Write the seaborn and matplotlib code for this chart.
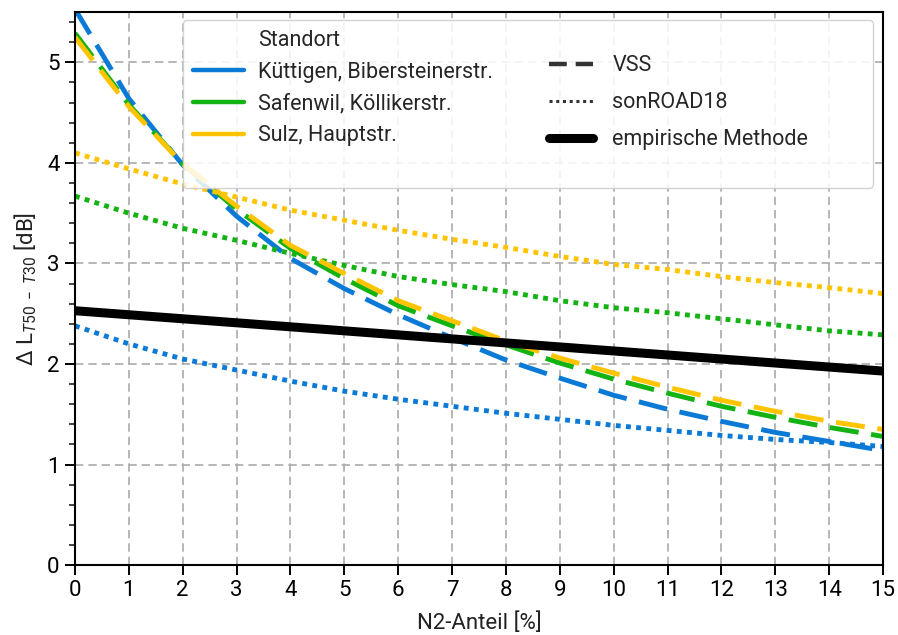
import numpy as np
import pandas as pd
import matplotlib
matplotlib.use("Agg")
import matplotlib.pyplot as plt
import seaborn as sns
from matplotlib.lines import Line2D
from matplotlib.ticker import MultipleLocator

# ---- data ----
n2_anteil = [0, 1, 2, 3, 4, 5, 6, 7, 8, 9, 10, 11, 12, 13, 14, 15]
standorte = ["Küttigen, Bibersteinerstr.", "Safenwil, Köllikerstr.", "Sulz, Hauptstr."]
methoden = ["VSS", "sonROAD18"]

kuettigen_vss = [5.53, 4.64, 3.98, 3.47, 3.05, 2.75, 2.49, 2.26, 2.04, 1.86, 1.69, 1.55, 1.43, 1.32, 1.23, 1.14]
safenwil_vss = [5.29, 4.58, 3.99, 3.54, 3.15, 2.85, 2.58, 2.38, 2.19, 2.01, 1.85, 1.71, 1.58, 1.47, 1.37, 1.28]
sulz_vss = [5.25, 4.56, 3.99, 3.57, 3.18, 2.90, 2.63, 2.43, 2.23, 2.06, 1.91, 1.77, 1.64, 1.53, 1.43, 1.35]

kuettigen_son = [2.38, 2.20, 2.05, 1.94, 1.83, 1.73, 1.65, 1.58, 1.51, 1.45, 1.39, 1.34, 1.29, 1.25, 1.22, 1.18]
safenwil_son = [3.67, 3.50, 3.35, 3.23, 3.10, 2.98, 2.87, 2.79, 2.72, 2.63, 2.56, 2.51, 2.45, 2.39, 2.33, 2.29]
sulz_son = [4.10, 3.94, 3.79, 3.66, 3.53, 3.43, 3.33, 3.24, 3.16, 3.07, 2.99, 2.94, 2.87, 2.81, 2.76, 2.70]

empirisch = [2.53, 2.49, 2.45, 2.41, 2.37, 2.33, 2.29, 2.25, 2.21, 2.17, 2.13, 2.09, 2.05, 2.01, 1.97, 1.93]

colors = ["#0a7ad6", "#12b312", "#ffc400"]

# ---- long table ----
series = {
    (standorte[0], "VSS"): kuettigen_vss,
    (standorte[1], "VSS"): safenwil_vss,
    (standorte[2], "VSS"): sulz_vss,
    (standorte[0], "sonROAD18"): kuettigen_son,
    (standorte[1], "sonROAD18"): safenwil_son,
    (standorte[2], "sonROAD18"): sulz_son,
}
rows = []
for (st, me), vals in series.items():
    for xv, yv in zip(n2_anteil, vals):
        rows.append({"N2": xv, "dL": yv, "Standort": st, "Methode": me})
df = pd.DataFrame(rows)

# ---- style ----
sns.set_theme(style="ticks")
plt.rcParams["font.family"] = ["Roboto", "DejaVu Sans"]
plt.rcParams["mathtext.fontset"] = "custom"
plt.rcParams["mathtext.rm"] = "Roboto"
plt.rcParams["mathtext.it"] = "Roboto:italic"
plt.rcParams["mathtext.default"] = "rm"

fig = plt.figure(figsize=(8.98, 6.35), dpi=100)
ax = fig.add_axes([0.0835, 0.110, 0.8998, 0.871])

ax.grid(True, which="major", ls=(0, (5, 3)), color="#aaaaaa", lw=1.2)
ax.set_axisbelow(True)

sns.lineplot(data=df, x="N2", y="dL", hue="Standort", style="Methode",
             hue_order=standorte, style_order=methoden,
             palette=colors, dashes={"VSS": (6, 2.6), "sonROAD18": (1, 1.1)},
             linewidth=3.5, legend=False, ax=ax)
for ln in ax.get_lines():
    ln.set_dash_capstyle("butt")
sns.lineplot(x=n2_anteil, y=empirisch, color="black", linewidth=6.5, ax=ax)

ax.set_xlim(0, 15)
ax.set_ylim(0, 5.5)
ax.xaxis.set_major_locator(MultipleLocator(1))
ax.yaxis.set_major_locator(MultipleLocator(1))
ax.yaxis.set_minor_locator(MultipleLocator(0.2))
ax.tick_params(axis="both", which="major", length=7, width=1.4, labelsize=16, colors="black", pad=4)
ax.tick_params(axis="y", which="minor", length=4, width=1.2)
for sp in ax.spines.values():
    sp.set_visible(True)
    sp.set_color("black")
    sp.set_linewidth(1.5)

ax.set_xlabel("N2-Anteil [%]", fontsize=16, color="#222222", labelpad=8)
ax.set_ylabel(r"$\Delta$ L$_{\mathit{T}50\ -\ \mathit{T}30}$ [dB]", fontsize=16, color="#222222", labelpad=6)

# ---- legends ----
blank = Line2D([], [], color="none")
h1 = [blank] + [Line2D([], [], color=c, lw=3.2) for c in colors] + [blank]
l1 = ["Standort"] + standorte + [""]
leg1 = ax.legend(h1, l1, loc="upper left", bbox_to_anchor=(0.1337, 0.5, 0.854, 0.4855),
                 mode="expand", borderaxespad=0, fontsize=15.5, handlelength=2.4,
                 handletextpad=0.65, labelspacing=0.5, borderpad=0.45,
                 frameon=True, framealpha=0.85, edgecolor="#cccccc", fancybox=True)
ax.add_artist(leg1)

h2 = [Line2D([], [], color="#333333", lw=3.2, ls=(0, (4, 2)), dash_capstyle="butt"),
      Line2D([], [], color="#333333", lw=2.2, ls=(0, (1, 1.2))),
      Line2D([], [], color="black", lw=6.5)]
l2 = ["VSS", "sonROAD18", "empirische Methode"]
leg2 = ax.legend(h2, l2, loc="upper left", bbox_to_anchor=(0.5866, 0.922),
                 borderaxespad=0, borderpad=0, fontsize=15.5, handlelength=2.05,
                 handletextpad=0.9, labelspacing=0.75, frameon=False)

fig.savefig("out.png", dpi=100)
